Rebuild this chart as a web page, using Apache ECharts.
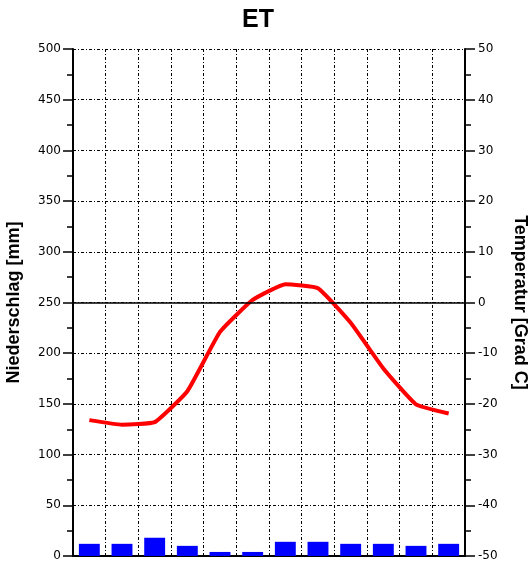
<!DOCTYPE html>
<html lang="de">

<head>
    <meta charset="utf-8">
    <title>ET</title>
    <style>
        html, body { margin: 0; padding: 0; background: #fff; }
        #main { width: 530px; height: 567px; }
    </style>
</head>

<body>
    <div id="main"></div>
    <script src="https://cdn.jsdelivr.net/npm/echarts@6/dist/echarts.min.js"></script>
    <script>
    // Monate (keine Beschriftung im Diagramm)
    var months = ['Jan', 'Feb', 'Mar', 'Apr', 'Mai', 'Jun', 'Jul', 'Aug', 'Sep', 'Okt', 'Nov', 'Dez'];
    // Niederschlag [mm]
    var precipitation = [12, 12, 18, 10, 4, 4, 14, 14, 12, 12, 10, 12];
    // Temperatur [Grad C]
    var temperature = [-23.2, -24.1, -23.6, -17.5, -5.8, 0.5, 3.6, 2.8, -4.0, -13.0, -20.1, -21.9];

    var dashDot = [3, 2, 1, 2];
    var tickFont = { color: '#000', fontSize: 12, fontFamily: 'DejaVu Sans' };

    var chart = echarts.init(document.getElementById('main'));

    var option = {
        backgroundColor: '#fff',
        animation: false,
        title: {
            text: 'ET',
            left: 242,
            top: 8,
            padding: 0,
            textStyle: { fontSize: 25, fontWeight: 'bold', fontFamily: 'Liberation Sans', color: '#000' }
        },
        grid: { left: 73, right: 65, top: 49, bottom: 11, containLabel: false, outerBoundsMode: 'none' },
        xAxis: {
            type: 'category',
            data: months,
            axisLabel: { show: false },
            axisTick: { show: false },
            axisLine: { lineStyle: { color: '#000', width: 2 } },
            splitLine: { show: true, lineStyle: { color: '#000', width: 1, type: dashDot } }
        },
        yAxis: [
            {
                type: 'value',
                min: 0,
                max: 500,
                interval: 50,
                name: 'Niederschlag [mm]',
                nameLocation: 'middle',
                nameRotate: 90,
                nameGap: 50,
                nameTextStyle: { fontSize: 18, fontWeight: 'bold', fontFamily: 'Liberation Sans', color: '#000' },
                axisLine: { show: true, lineStyle: { color: '#000', width: 2 } },
                axisTick: { show: true, length: 10, lineStyle: { color: '#000', width: 1.5 } },
                minorTick: { show: true, splitNumber: 2, length: 6, lineStyle: { color: '#000', width: 1.5 } },
                axisLabel: Object.assign({ margin: 12 }, tickFont),
                splitLine: { show: true, lineStyle: { color: '#000', width: 1, type: dashDot } }
            },
            {
                type: 'value',
                min: -50,
                max: 50,
                interval: 10,
                position: 'right',
                name: 'Temperatur [Grad C]',
                nameLocation: 'middle',
                nameRotate: -90,
                nameGap: 46,
                nameTextStyle: { fontSize: 18, fontWeight: 'bold', fontFamily: 'Liberation Sans', color: '#000' },
                axisLine: { show: true, lineStyle: { color: '#000', width: 2 } },
                axisTick: { show: true, length: 10, lineStyle: { color: '#000', width: 1.5 } },
                minorTick: { show: true, splitNumber: 2, length: 6, lineStyle: { color: '#000', width: 1.5 } },
                axisLabel: Object.assign({ margin: 13 }, tickFont),
                splitLine: { show: false }
            }
        ],
        series: [
            {
                name: 'Niederschlag',
                type: 'bar',
                yAxisIndex: 0,
                barWidth: '64%',
                itemStyle: { color: '#0000ff' },
                data: precipitation
            },
            {
                name: 'Temperatur',
                type: 'line',
                yAxisIndex: 1,
                smooth: 0.12,
                symbol: 'none',
                lineStyle: { color: '#ff0000', width: 4 },
                markLine: {
                    silent: true,
                    symbol: 'none',
                    label: { show: false },
                    lineStyle: { color: '#000', width: 1.5, type: 'solid' },
                    data: [{ yAxis: 0 }]
                },
                data: temperature
            }
        ]
    };

    chart.setOption(option);
    </script>
</body>

</html>
